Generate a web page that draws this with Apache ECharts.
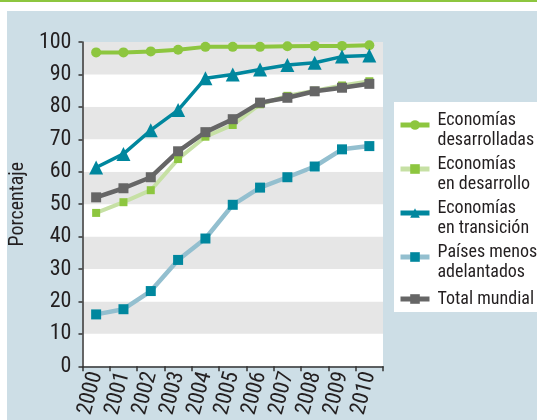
<!DOCTYPE html>
<html>
<head>
<meta charset="utf-8">
<script src="https://cdn.jsdelivr.net/npm/echarts@6/dist/echarts.min.js"></script>
<style>
  html, body { margin: 0; padding: 0; background: #fff; }
  #chart { width: 537px; height: 420px; }
</style>
</head>
<body>
<div id="chart"></div>
<script>
// Tasa de cobertura (%), 2000-2010
var years = ['2000', '2001', '2002', '2003', '2004', '2005', '2006', '2007', '2008', '2009', '2010'];
var seriesNames = [
  'Economías\ndesarrolladas',
  'Economías\nen desarrollo',
  'Economías\nen transición',
  'Países menos\nadelantados',
  'Total mundial'
];
var developed  = [96.8, 96.8, 97.1, 97.6, 98.5, 98.5, 98.5, 98.7, 98.8, 98.8, 99.0];
var developing = [47.3, 50.6, 54.3, 63.9, 70.8, 74.4, 80.8, 83.4, 85.0, 86.6, 87.9];
var transition = [61.3, 65.5, 72.8, 79.0, 88.8, 90.0, 91.5, 92.9, 93.6, 95.5, 95.8];
var leastDev   = [16.0, 17.6, 23.2, 32.8, 39.4, 49.8, 55.1, 58.3, 61.6, 66.9, 67.9];
var worldTotal = [52.1, 54.9, 58.3, 66.3, 72.2, 76.2, 81.3, 82.8, 84.8, 85.9, 87.1];
var yTicks = [0, 10, 20, 30, 40, 50, 60, 70, 80, 90, 100];

var FONT = '"Liberation Sans Narrow", "Arial Narrow", "Roboto Condensed", "Liberation Sans", Arial, sans-serif';
var TEXT = '#231f20';
var AXIS = '#333333';

function lineSeries(name, data, symbol, size, markerColor, lineColor, lineWidth) {
  return {
    name: name,
    type: 'line',
    data: data,
    symbol: symbol,
    symbolSize: size,
    showAllSymbol: true,
    itemStyle: { color: markerColor },
    lineStyle: { color: lineColor, width: lineWidth },
    emphasis: { disabled: true },
    animation: false
  };
}

var chart = echarts.init(document.getElementById('chart'), null, { renderer: 'canvas' });

chart.setOption({
  backgroundColor: '#ffffff',
  animation: false,
  graphic: [
    { type: 'rect', left: 0, top: 0, shape: { width: 537, height: 2 }, style: { fill: '#8dc63f' }, z: -10 },
    { type: 'rect', left: 7, top: 11, shape: { width: 530, height: 409 }, style: { fill: '#cddee6' }, z: -10 },
    { type: 'rect', left: 394, top: 102, shape: { width: 143, height: 210 }, style: { fill: '#ffffff' }, z: -9 }
  ],
  grid: {
    left: 72, right: 154, top: 42, bottom: 52,
    show: true, backgroundColor: '#ffffff', borderWidth: 0
  },
  legend: {
    orient: 'vertical',
    left: 398,
    top: 100,
    padding: 0,
    itemGap: -6,
    itemWidth: 29,
    itemHeight: 12,
    selectedMode: false,
    lineStyle: { width: 5 },
    // two-line entries get a short spacer line on top so the icon sits by the first line
    formatter: function (name) {
      return name.indexOf('\n') >= 0
        ? '{s| }\n' + name
        : '{t| }\n' + name + '\n{t| }';
    },
    textStyle: {
      fontFamily: FONT, fontSize: 18, color: TEXT, lineHeight: 20,
      padding: [0, 0, 0, 3],
      rich: {
        s: { fontSize: 1, lineHeight: 10 },
        t: { fontSize: 1, lineHeight: 13 }
      }
    },
    data: seriesNames
  },
  xAxis: {
    type: 'category',
    data: years,
    boundaryGap: true,
    axisLine: { lineStyle: { color: AXIS, width: 1.5 } },
    axisTick: { show: true, interval: 0, length: 5, lineStyle: { color: AXIS, width: 1.5 } },
    axisLabel: {
      interval: 0, rotate: 75, margin: 6,
      fontFamily: FONT, fontSize: 22, color: TEXT
    },
    splitLine: { show: false }
  },
  yAxis: {
    type: 'value',
    min: 0, max: 100, interval: 10,
    name: 'Porcentaje',
    nameLocation: 'middle',
    nameRotate: 90,
    nameGap: 46,
    nameTextStyle: { fontFamily: FONT, fontSize: 20, color: TEXT },
    axisLine: { show: true, lineStyle: { color: AXIS, width: 1.5 } },
    axisTick: { show: true, length: 4, lineStyle: { color: AXIS, width: 1.5 } },
    axisLabel: {
      margin: 11, fontFamily: FONT, fontSize: 22, color: TEXT,
      formatter: function (v) { return yTicks.indexOf(v) >= 0 ? String(v) : ''; }
    },
    splitLine: { show: false },
    splitArea: { show: true, areaStyle: { color: ['#ffffff', '#e6e6e6'] } }
  },
  series: [
    lineSeries(seriesNames[0], developed,  'circle',   10, '#8dc63f', '#8dc63f', 4),
    lineSeries(seriesNames[1], developing, 'rect',      8, '#8dc63f', '#c6e0a4', 4),
    lineSeries(seriesNames[2], transition, 'triangle', 14, '#00879e', '#00879e', 3.5),
    lineSeries(seriesNames[3], leastDev,   'rect',     10, '#00879e', '#93bfcf', 4.5),
    lineSeries(seriesNames[4], worldTotal, 'rect',     10, '#666666', '#666666', 4.5)
  ]
});
</script>
</body>
</html>
